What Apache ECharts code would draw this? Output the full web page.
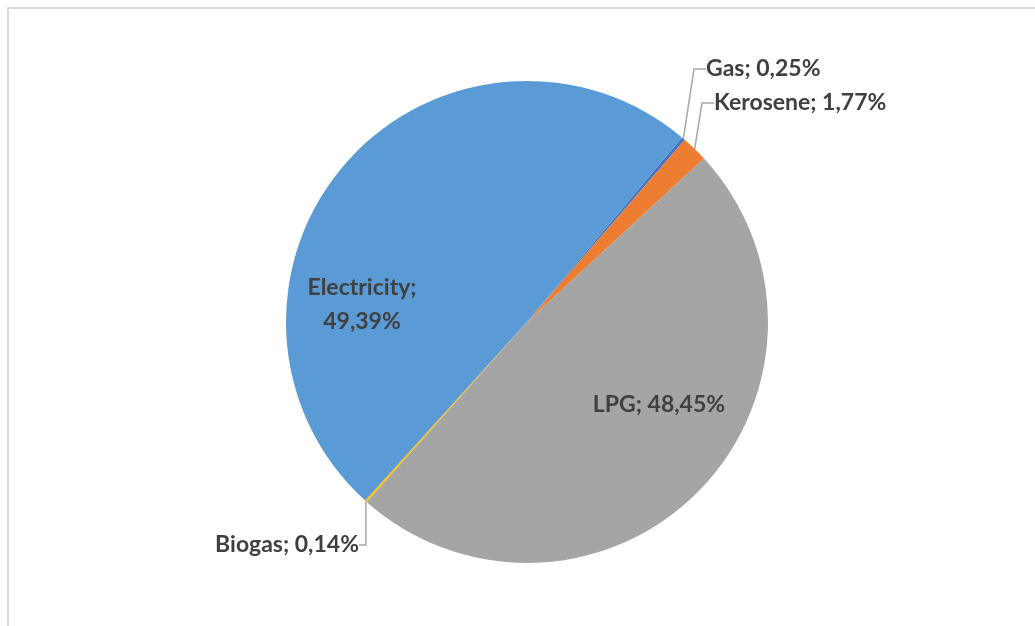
<!DOCTYPE html>
<html>
<head>
<meta charset="utf-8">
<script src="https://cdn.jsdelivr.net/npm/echarts@6/dist/echarts.min.js"></script>
<style>
  html, body { margin: 0; padding: 0; background: #fff; }
  #chart { width: 1035px; height: 626px; }
</style>
</head>
<body>
<div id="chart"></div>
<script>
// data, in the clockwise order it is drawn
const categories = ['Gas', 'Kerosene', 'LPG', 'Biogas', 'Electricity'];
const shares = [0.25, 1.77, 48.45, 0.14, 49.39];
const colors = ['#4472C4', '#ED7D31', '#A5A5A5', '#FFC000', '#5B9BD5'];

// where each label sits, relative to the pie centre (px)
const labelSpots = [
  { dx: 179, dy: -253, align: 'left' },
  { dx: 187, dy: -219, align: 'left' },
  { dx: 132, dy: 83, align: 'center' },
  { dx: -168, dy: 223, align: 'right' },
  { dx: -165, dy: -17, align: 'center' }
];
const inside = [false, false, true, false, true];

const W = 1035, H = 626;
const cx = 527, cy = 322, R = 241;

const fmt = v => v.toFixed(2).replace('.', ',') + '%';

const chart = echarts.init(document.getElementById('chart'));

chart.setOption({
  animation: false,
  graphic: [{
    type: 'polyline',
    shape: { points: [[8, H + 10], [8, 8], [W + 10, 8]] },
    style: { stroke: '#d9d9d9', lineWidth: 2, fill: null }
  }],
  series: [{
    type: 'pie',
    center: [cx, cy],
    radius: R,
    startAngle: 50,
    clockwise: true,
    minAngle: 0,
    avoidLabelOverlap: false,
    itemStyle: { borderWidth: 0 },
    label: {
      fontFamily: 'Lato',
      fontWeight: 'bold',
      fontSize: 23,
      color: '#404040',
      lineHeight: 34
    },
    labelLine: {
      lineStyle: { color: '#a6a6a6', width: 1.5 },
      length: 10,
      length2: 12
    },
    labelLayout: function (p) {
      const s = labelSpots[p.dataIndex];
      return {
        x: cx + s.dx,
        y: cy + s.dy,
        align: s.align,
        verticalAlign: 'middle'
      };
    },
    data: categories.map((name, i) => ({
      name: name,
      value: shares[i],
      itemStyle: { color: colors[i] },
      label: {
        position: inside[i] ? 'inside' : 'outside',
        formatter: name === 'Electricity'
          ? name + ';\n' + fmt(shares[i])
          : name + '; ' + fmt(shares[i])
      },
      labelLine: { show: !inside[i] }
    }))
  }]
});
</script>
</body>
</html>
